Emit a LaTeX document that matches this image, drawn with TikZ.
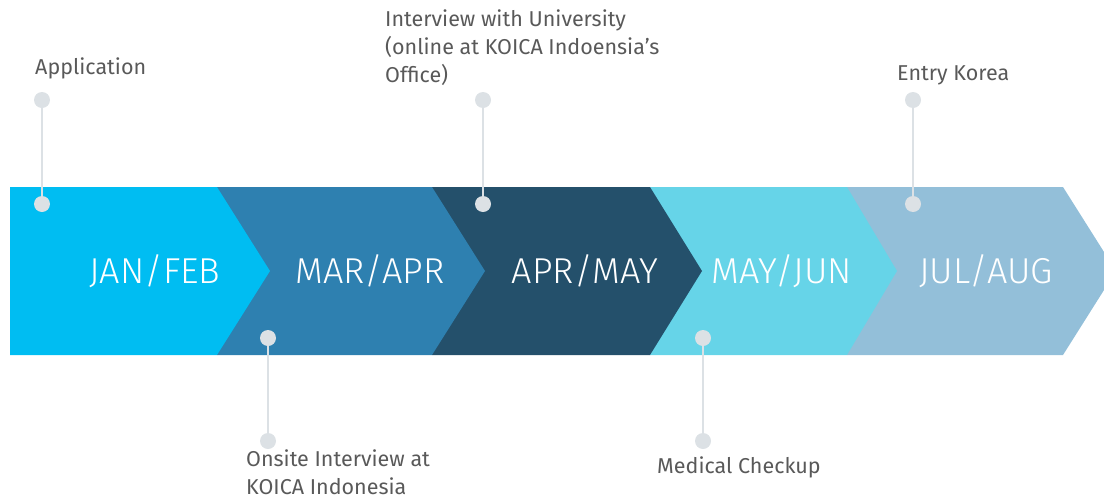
\documentclass[tikz,border=0pt]{standalone}
\usepackage{fontspec}
\setmainfont{Fira Sans}
\newfontfamily\monthfont{Fira Sans Light}
\usetikzlibrary{positioning}
\definecolor{janfeb}{HTML}{00BDF2}
\definecolor{marapr}{HTML}{2E80B0}
\definecolor{aprmay}{HTML}{24506B}
\definecolor{mayjun}{HTML}{66D4E8}
\definecolor{julaug}{HTML}{93BFD9}
\definecolor{dotgray}{HTML}{DCE1E5}
\definecolor{textgray}{HTML}{595959}

\begin{document}
\begin{tikzpicture}
    [
        x=1pt, y=-1pt,
        month/.style={text=white, anchor=base, font=\monthfont\fontsize{36}{40}\selectfont},
        dot/.style={circle, fill=dotgray, minimum size=16pt, inner sep=0pt},
        stage/.style={text=textgray, anchor=base west, align=left, inner sep=0pt, font=\fontsize{21.5}{28}\selectfont}
    ]
    \tikzstyle{stem} = [draw=dotgray, line width=2pt]

    \useasboundingbox (0,0) rectangle (1104,501);
    \clip (0,0) rectangle (1104,501);

    % chevrons, last one first
    \fill[julaug] (847,187) -- (1063,187) -- (1116,271) -- (1063,355) -- (847,355) -- cycle;
    \fill[mayjun] (650,187) -- (847,187) -- (897,271) -- (847,355) -- (650,355) -- cycle;
    \fill[aprmay] (432,187) -- (650,187) -- (702,271) -- (650,355) -- (432,355) -- cycle;
    \fill[marapr] (217,187) -- (432,187) -- (485,271) -- (432,355) -- (217,355) -- cycle;
    \fill[janfeb] (10,187) -- (217,187) -- (270,271) -- (217,355) -- (10,355) -- cycle;

    \node[month] (jan) at (155,283) {JAN/FEB};
    \node[month] (mar) at (370,283) {MAR/APR};
    \node[month] (apr) at (585,283) {APR/MAY};
    \node[month] (may) at (782,283) {MAY/JUN};
    \node[month] (jul) at (986,283) {JUL/AUG};

    % markers above
    \node[dot] (app_top) at (42,100) {};
    \node[dot] (app_bar) at (42,204) {};
    \node[dot] (uni_top) at (483,100) {};
    \node[dot] (uni_bar) at (483,204) {};
    \node[dot] (kor_top) at (913,100) {};
    \node[dot] (kor_bar) at (913,204) {};
    \path[stem] (app_top) -- (app_bar);
    \path[stem] (uni_top) -- (uni_bar);
    \path[stem] (kor_top) -- (kor_bar);

    % markers below
    \node[dot] (ons_bar) at (268,338) {};
    \node[dot] (ons_bot) at (268,441) {};
    \node[dot] (med_bar) at (703,338) {};
    \node[dot] (med_bot) at (703,441) {};
    \path[stem] (ons_bar) -- (ons_bot);
    \path[stem] (med_bar) -- (med_bot);

    % base anchor sits on the last line
    \node[stage] (app) at (35,74) {Application};
    \node[stage] (uni) at (385,82) {Interview with University\\(online at KOICA Indoensia’s\\Office)};
    \node[stage] (kor) at (897,80) {Entry Korea};
    \node[stage] (ons) at (246,494) {Onsite Interview at\\KOICA Indonesia};
    \node[stage] (med) at (657,473) {Medical Checkup};
\end{tikzpicture}
\end{document}
